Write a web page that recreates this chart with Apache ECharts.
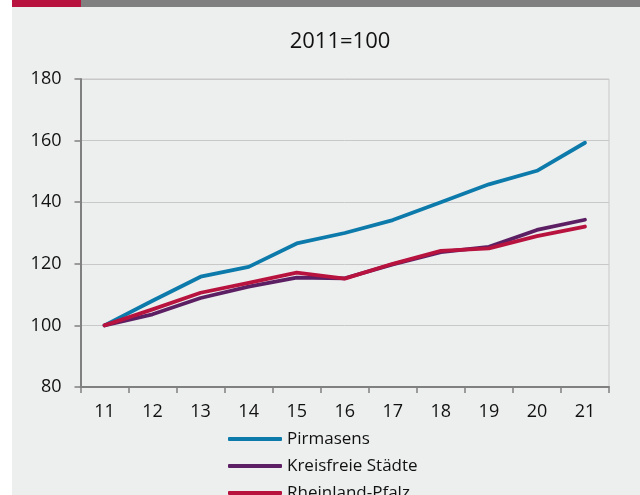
<!DOCTYPE html>
<html>
<head>
<meta charset="utf-8">
<script src="https://cdn.jsdelivr.net/npm/echarts@6/dist/echarts.min.js"></script>
<style>
  html, body { margin: 0; padding: 0; background: #fff; }
  #main { width: 640px; height: 495px; }
</style>
</head>
<body>
<div id="main"></div>
<script>
// Jahre (2011 = 100)
var years = ['11', '12', '13', '14', '15', '16', '17', '18', '19', '20', '21'];
var pirmasens = [100, 108, 115.8, 119, 126.6, 130, 134.2, 140, 145.8, 150.2, 159.3];
var kreisfreie = [100, 103.6, 108.9, 112.6, 115.5, 115.3, 119.8, 123.8, 125.5, 131, 134.3];
var rlp = [100, 105.2, 110.6, 113.8, 117.1, 115.2, 120, 124.2, 125, 129, 132.1];
var yTicks = [80, 100, 120, 140, 160, 180];

var font = '"Open Sans", "Noto Sans", sans-serif';
var myChart = echarts.init(document.getElementById('main'));

function line(name, data, color) {
  return {
    name: name,
    type: 'line',
    data: data,
    showSymbol: false,
    symbol: 'none',
    lineStyle: { width: 3.8, color: color, cap: 'round', join: 'round' },
    itemStyle: { color: color }
  };
}

var option = {
  animation: false,
  backgroundColor: '#ffffff',
  graphic: [
    { type: 'rect', z: -10, shape: { x: 12, y: 0, width: 628, height: 495 }, style: { fill: '#edeeee' } },
    { type: 'rect', shape: { x: 12, y: 0, width: 69, height: 7 }, style: { fill: '#b8123f' } },
    { type: 'rect', shape: { x: 81, y: 0, width: 559, height: 7 }, style: { fill: '#808080' } }
  ],
  title: {
    text: '2011=100',
    left: 335,
    top: 26,
    textAlign: 'center',
    textStyle: { fontFamily: font, fontSize: 22, fontWeight: 'normal', color: '#111' }
  },
  grid: {
    left: 80.5, right: 31, top: 79, bottom: 108,
    show: true, borderColor: '#c8c8c8', borderWidth: 1, backgroundColor: 'transparent'
  },
  // horizontal legend squeezed narrow so each entry gets its own row
  legend: {
    orient: 'horizontal',
    left: 228,
    top: 430,
    width: 250,
    padding: 0,
    itemWidth: 54,
    itemHeight: 4,
    itemGap: 9,
    icon: 'roundRect',
    align: 'left',
    textStyle: { fontFamily: font, fontSize: 17, color: '#111', lineHeight: 18 },
    data: ['Pirmasens', 'Kreisfreie Städte', 'Rheinland-Pfalz']
  },
  xAxis: {
    type: 'category',
    data: years,
    boundaryGap: true,
    axisLine: { lineStyle: { color: '#808080', width: 2 } },
    axisTick: { show: true, length: 6, lineStyle: { color: '#808080', width: 1.5 } },
    axisLabel: { fontFamily: font, fontSize: 18, color: '#111', margin: 16 },
    splitLine: { show: false }
  },
  yAxis: {
    type: 'value',
    min: yTicks[0],
    max: yTicks[yTicks.length - 1],
    interval: 20,
    axisLine: { show: true, lineStyle: { color: '#808080', width: 2 } },
    axisTick: { show: true, length: 6, lineStyle: { color: '#808080', width: 1.5 } },
    axisLabel: { fontFamily: font, fontSize: 18, color: '#111', margin: 19 },
    splitLine: { lineStyle: { color: '#c8c8c8', width: 1 } }
  },
  series: [
    line('Pirmasens', pirmasens, '#0c7aaa'),
    line('Kreisfreie Städte', kreisfreie, '#5c1f63'),
    line('Rheinland-Pfalz', rlp, '#b8123f')
  ]
};
myChart.setOption(option);
</script>
</body>
</html>
